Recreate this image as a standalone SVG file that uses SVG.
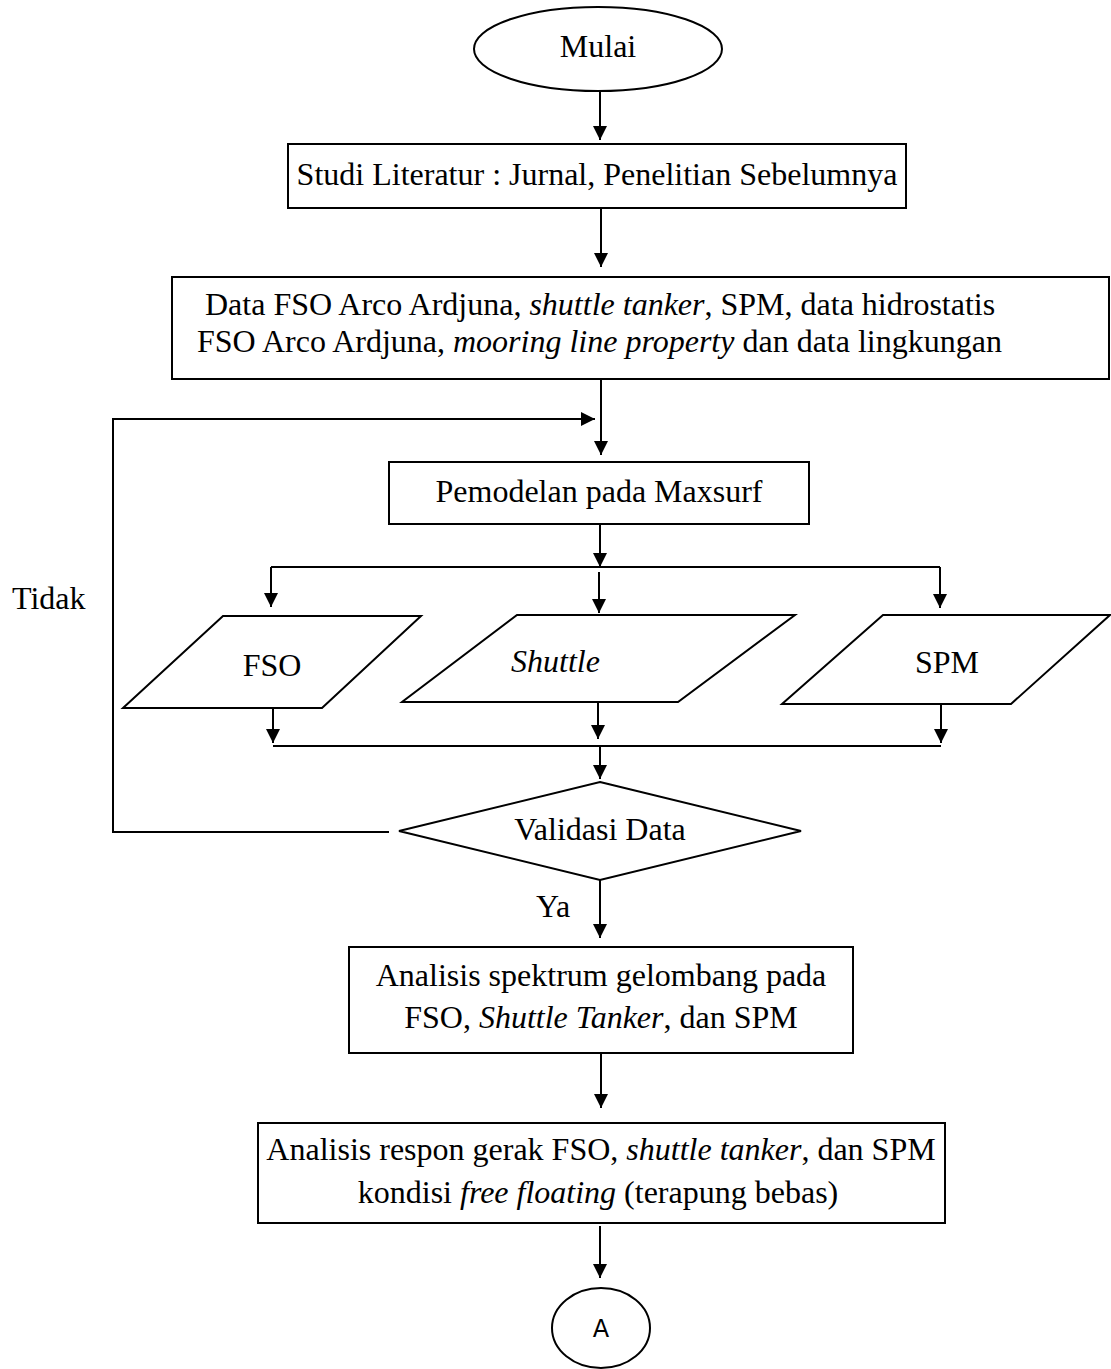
<svg xmlns="http://www.w3.org/2000/svg" width="1111" height="1369" viewBox="0 0 1111 1369">
<style>
.s{fill:#fff;stroke:#000;stroke-width:2}
.t{font-family:"Liberation Serif","Times New Roman",serif;font-size:32px;fill:#000}
.c{text-anchor:middle}
.i{font-style:italic}
.ln{fill:none;stroke:#000;stroke-width:2}
.a{fill:none;stroke:#000;stroke-width:2;marker-end:url(#ah)}
</style>
<defs>
<marker id="ah" viewBox="0 0 14 14" refX="14" refY="7" markerWidth="14" markerHeight="14" markerUnits="userSpaceOnUse" orient="auto">
<path d="M0,0 L14,7 L0,14 z" fill="#000"/>
</marker>
</defs>
<rect width="1111" height="1369" fill="#fff"/>
<g id="connectors">
<line class="a" x1="600" y1="92" x2="600" y2="140"/>
<line class="a" x1="601" y1="208" x2="601" y2="267"/>
<line class="a" x1="601" y1="379" x2="601" y2="455"/>
<polyline class="a" points="389,832 113,832 113,419 595,419"/>
<line class="a" x1="600" y1="524" x2="600" y2="567"/>
<line class="ln" x1="271" y1="567" x2="940" y2="567"/>
<line class="a" x1="271" y1="567" x2="271" y2="607"/>
<line class="a" x1="599" y1="572" x2="599" y2="613"/>
<line class="a" x1="940" y1="567" x2="940" y2="608"/>
<line class="a" x1="273" y1="708" x2="273" y2="743"/>
<line class="a" x1="598" y1="700" x2="598" y2="739"/>
<line class="a" x1="941" y1="704" x2="941" y2="743"/>
<line class="ln" x1="273" y1="746" x2="941" y2="746"/>
<line class="a" x1="600" y1="746" x2="600" y2="779"/>
<line class="a" x1="600" y1="880" x2="600" y2="938"/>
<line class="a" x1="601" y1="1050" x2="601" y2="1108"/>
<line class="a" x1="600" y1="1226" x2="600" y2="1278"/>
<text class="t" x="12" y="609">Tidak</text>
<text class="t" x="536" y="917">Ya</text>
</g>
<g id="mulai">
<ellipse class="s" cx="598" cy="49" rx="124" ry="42"/>
<text class="t c" x="598" y="57">Mulai</text>
</g>
<g id="studi">
<rect class="s" x="288" y="144" width="618" height="64"/>
<text class="t c" x="597" y="185">Studi Literatur : Jurnal, Penelitian Sebelumnya</text>
</g>
<g id="data">
<rect class="s" x="172" y="277" width="937" height="102"/>
<text class="t" x="205" y="315">Data FSO Arco Ardjuna, <tspan class="i">shuttle tanker</tspan>, SPM, data hidrostatis</text>
<text class="t" x="197" y="352">FSO Arco Ardjuna, <tspan class="i">mooring line property</tspan> dan data lingkungan</text>
</g>
<g id="pemodelan">
<rect class="s" x="389" y="462" width="420" height="62"/>
<text class="t c" x="599" y="502">Pemodelan pada Maxsurf</text>
</g>
<g id="fso">
<polygon class="s" points="223,616 421,616 322,708 123,708"/>
<text class="t c" x="272" y="676">FSO</text>
</g>
<g id="shuttle">
<polygon class="s" points="517,615 795,615 678,702 402,702"/>
<text class="t i" x="511" y="672">Shuttle</text>
</g>
<g id="spm">
<polygon class="s" points="883,615 1110,615 1011,704 782,704"/>
<text class="t c" x="947" y="673">SPM</text>
</g>
<g id="validasi">
<polygon class="s" points="600,782 801,831 600,880 399,831"/>
<text class="t c" x="600" y="840">Validasi Data</text>
</g>
<g id="spektrum">
<rect class="s" x="349" y="947" width="504" height="106"/>
<text class="t c" x="601" y="986">Analisis spektrum gelombang pada</text>
<text class="t c" x="601" y="1028">FSO, <tspan class="i">Shuttle Tanker</tspan>, dan SPM</text>
</g>
<g id="respon">
<rect class="s" x="258" y="1123" width="687" height="100"/>
<text class="t c" x="601" y="1160">Analisis respon gerak FSO, <tspan class="i">shuttle tanker</tspan>, dan SPM</text>
<text class="t c" x="598" y="1203">kondisi <tspan class="i">free floating</tspan> (terapung bebas)</text>
</g>
<g id="connector-a">
<ellipse class="s" cx="601" cy="1328" rx="49" ry="40"/>
<text x="601" y="1337" text-anchor="middle" font-family="'DejaVu Sans','Liberation Sans',sans-serif" font-size="24">A</text>
</g>
</svg>
